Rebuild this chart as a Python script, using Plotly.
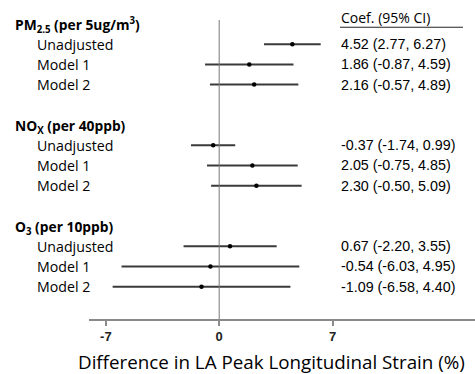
import plotly.graph_objects as go

# Exposure groups and model labels
groups = ["PM<sub>2.5</sub> (per 5ug/m<sup>3</sup>)", "NO<sub>X</sub> (per 40ppb)", "O<sub>3</sub> (per 10ppb)"]
models = ["Unadjusted", "Model 1", "Model 2"]

# Coefficients with 95% confidence intervals
coef = [4.52, 1.86, 2.16, -0.37, 2.05, 2.30, 0.67, -0.54, -1.09]
lower = [2.77, -0.87, -0.57, -1.74, -0.75, -0.50, -2.20, -6.03, -6.58]
upper = [6.27, 4.59, 4.89, 0.99, 4.85, 5.09, 3.55, 4.95, 4.40]

tick_vals = [-7, 0, 7]
x_title = "Difference in LA Peak Longitudinal Strain (%)"

W, H = 475, 374
LEFT = 89

# Row positions: each group has a header row followed by three model rows and a gap
header_rows = [0, 5, 10]
rows = [h + i + 1 for h in header_rows for i in range(3)]

fig = go.Figure()

# Confidence interval segments
for r, lo, hi in zip(rows, lower, upper):
    fig.add_trace(go.Scatter(
        x=[lo, hi], y=[r, r], mode="lines",
        line=dict(color="#3a3a3a", width=2), hoverinfo="skip", showlegend=False))

# Point estimates
fig.add_trace(go.Scatter(
    x=coef, y=rows, mode="markers",
    marker=dict(color="black", size=4.5), showlegend=False))

# Reference line at zero
fig.add_shape(type="line", x0=0, x1=0, y0=-0.2, y1=14.6, xref="x", yref="y",
              line=dict(color="#777777", width=1))

left_font = "Open Sans, sans-serif"
right_font = "Liberation Sans, Arial, sans-serif"

# Group headers and model labels
for g, h in zip(groups, header_rows):
    fig.add_annotation(x=13 / W, y=h + 0.05, xref="paper", yref="y", text="<b>" + g + "</b>",
                       showarrow=False, xanchor="left", yanchor="middle",
                       font=dict(family=left_font, size=13.8, color="black"))
    for i, m in enumerate(models):
        fig.add_annotation(x=35 / W, y=h + i + 1, xref="paper", yref="y", text=m,
                           showarrow=False, xanchor="left", yanchor="middle",
                           font=dict(family=left_font, size=14.2, color="black"))

# Coefficient column
fig.add_annotation(x=339 / W, y=-0.3, xref="paper", yref="y", text="Coef. (95% CI)",
                   showarrow=False, xanchor="left", yanchor="middle",
                   font=dict(family=left_font, size=14, color="black"))
fig.add_shape(type="line", x0=340 / W, x1=463 / W, y0=0.16, y1=0.16, xref="paper", yref="y",
              line=dict(color="#222222", width=1))
for r, c, lo, hi in zip(rows, coef, lower, upper):
    fig.add_annotation(x=339 / W, y=r, xref="paper", yref="y",
                       text=f"{c:.2f} ({lo:.2f}, {hi:.2f})",
                       showarrow=False, xanchor="left", yanchor="middle",
                       font=dict(family=right_font, size=14.3, color="black"))

# Axis title
fig.add_annotation(x=(73 + 470) / 2 / W, y=-43 / 319, xref="paper", yref="paper", text=x_title,
                   showarrow=False, xanchor="center", yanchor="middle",
                   font=dict(family=left_font, size=18.8, color="black"))

fig.update_layout(
    width=W, height=H,
    margin=dict(l=0, r=0, t=0, b=55),
    paper_bgcolor="white", plot_bgcolor="white",
    xaxis=dict(domain=[LEFT / W, 1], range=[-8.04, 15.8], tickvals=tick_vals,
               ticktext=[f"<b>{v}</b>" for v in tick_vals],
               showgrid=False, zeroline=False, showline=True, linecolor="#8a8a8a", linewidth=1.5,
               ticks="outside", ticklen=5, tickcolor="#8a8a8a", tickwidth=1.5,
               tickfont=dict(family=right_font, size=13, color="#222222")),
    yaxis=dict(range=[14.6, -1.188], visible=False, showgrid=False, zeroline=False),
)

fig.write_html("out.html")
